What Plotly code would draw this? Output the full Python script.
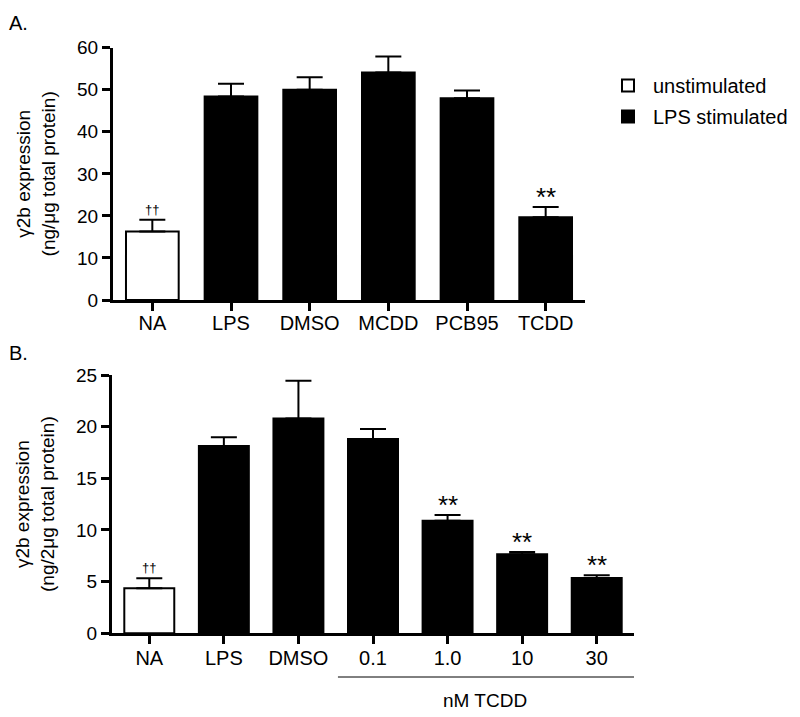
import plotly.graph_objects as go

# ---- Data ----
cats_a = ["NA", "LPS", "DMSO", "MCDD", "PCB95", "TCDD"]
vals_a = [16.3, 48.4, 50.0, 54.1, 48.0, 19.7]
err_a = [2.8, 3.0, 3.0, 3.8, 1.8, 2.4]
marks_a = ["††", "", "", "", "", "**"]

cats_b = ["NA", "LPS", "DMSO", "0.1", "1.0", "10", "30"]
vals_b = [4.36, 18.13, 20.8, 18.8, 10.9, 7.65, 5.35]
err_b = [0.96, 0.84, 3.65, 0.98, 0.55, 0.22, 0.26]
marks_b = ["††", "", "", "", "**", "**", "**"]

ticks_a = [0, 10, 20, 30, 40, 50, 60]
ticks_b = [0, 5, 10, 15, 20, 25]

FONT = "Arial, Liberation Sans, sans-serif"
BW = 0.67

# page body has an 8px margin: figure is sized to fit the 800x717 window
OX, OY = 8, 8
W, H = 800 - OX, 717 - OY


def px_x(X):
    return (X - OX) / W


def px_y(Y):
    return 1 - (Y - OY) / H


fig = go.Figure()


def add_panel(cats, vals, errs, xa, ya, show_legend):
    fig.add_trace(go.Bar(
        x=cats[:1], y=vals[:1], name="unstimulated", width=BW,
        marker=dict(color="white", line=dict(color="black", width=2)),
        error_y=dict(type="data", array=errs[:1], arrayminus=[0], symmetric=False,
                     color="black", thickness=2, width=13),
        xaxis=xa, yaxis=ya, showlegend=show_legend, legendgroup="g1",
    ))
    fig.add_trace(go.Bar(
        x=cats[1:], y=vals[1:], name="LPS stimulated", width=BW,
        marker=dict(color="black", line=dict(color="black", width=2)),
        error_y=dict(type="data", array=errs[1:], arrayminus=[0] * (len(cats) - 1),
                     symmetric=False, color="black", thickness=2, width=13),
        xaxis=xa, yaxis=ya, showlegend=show_legend, legendgroup="g2",
    ))


add_panel(cats_a, vals_a, err_a, "x", "y", True)
add_panel(cats_b, vals_b, err_b, "x2", "y2", False)

annotations = []
for xr, yr, vals, errs, marks in (("x", "y", vals_a, err_a, marks_a),
                                  ("x2", "y2", vals_b, err_b, marks_b)):
    for i, (v, e, m) in enumerate(zip(vals, errs, marks)):
        if m:
            star = m == "**"
            annotations.append(dict(x=i, y=v + e, xref=xr, yref=yr, text=m, showarrow=False,
                                    yanchor="bottom", yshift=-7 if star else 1,
                                    font=dict(size=26 if star else 13, family=FONT,
                                              color="black")))

annotations += [
    dict(x=px_x(7), y=px_y(23), xref="paper", yref="paper", text="A.", showarrow=False,
         xanchor="left", yanchor="middle", font=dict(size=20, family=FONT, color="black")),
    dict(x=px_x(7), y=px_y(353), xref="paper", yref="paper", text="B.", showarrow=False,
         xanchor="left", yanchor="middle", font=dict(size=20, family=FONT, color="black")),
    dict(x=4.5, y=px_y(700), xref="x2", yref="paper", text="nM TCDD", showarrow=False,
         xanchor="center", yanchor="middle", font=dict(size=19, family=FONT, color="black")),
]

shapes = [
    dict(type="line", xref="x2", yref="paper", x0=2.53, x1=6.54,
         y0=px_y(677), y1=px_y(677), line=dict(color="black", width=1)),
]

axis_common = dict(showline=True, linecolor="black", linewidth=3, ticks="outside",
                   ticklen=8, tickwidth=3, tickcolor="black", showgrid=False,
                   zeroline=False, color="black", automargin=False)

fig.update_layout(
    template="none",
    width=W, height=H,
    margin=dict(l=0, r=0, t=0, b=0, autoexpand=False),
    paper_bgcolor="white", plot_bgcolor="white",
    barmode="overlay",
    font=dict(family=FONT, color="black"),
    showlegend=True,
    legend=dict(x=px_x(603), y=px_y(66), xanchor="left", yanchor="top",
                font=dict(size=20, family=FONT, color="black"),
                itemwidth=40, tracegroupgap=2, bgcolor="rgba(0,0,0,0)", borderwidth=0),
    xaxis=dict(domain=[px_x(113), px_x(585)], range=[-0.5, 5.5], anchor="y",
               type="category", categoryorder="array", categoryarray=cats_a,
               tickfont=dict(size=20), ticklabelstandoff=-5, **axis_common),
    yaxis=dict(domain=[px_y(300), px_y(47.7)], range=[0, 60], anchor="x",
               tickvals=ticks_a, tickfont=dict(size=19),
               title=dict(text="γ2b expression<br>(ng/μg total protein)",
                          font=dict(size=19), standoff=17),
               **axis_common),
    xaxis2=dict(domain=[px_x(112), px_x(634)], range=[-0.5, 6.5], anchor="y2",
                type="category", categoryorder="array", categoryarray=cats_b,
                tickfont=dict(size=20), ticklabelstandoff=-3, **axis_common),
    yaxis2=dict(domain=[px_y(633.3), px_y(375)], range=[0, 25], anchor="x2",
                tickvals=ticks_b, tickfont=dict(size=19),
                title=dict(text="γ2b expression<br>(ng/2μg total protein)",
                           font=dict(size=19), standoff=17),
                **axis_common),
    annotations=annotations,
    shapes=shapes,
)

fig.write_html("out.html")
